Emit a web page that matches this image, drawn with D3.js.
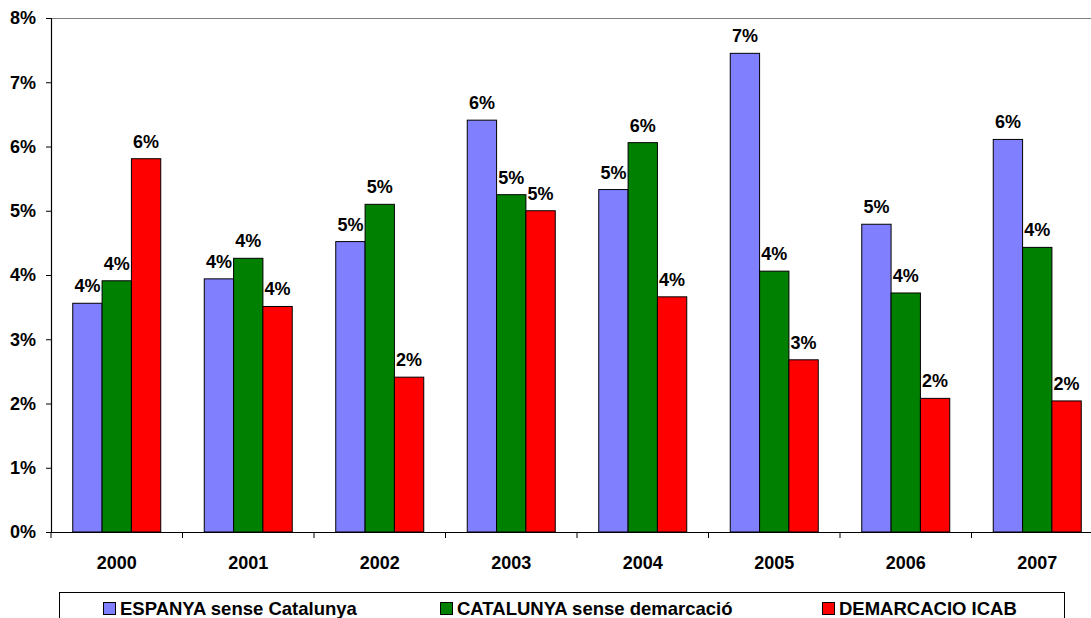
<!DOCTYPE html>
<html><head><meta charset="utf-8">
<script src="https://cdn.jsdelivr.net/npm/d3@7"></script>
<style>body{margin:0;background:#fff}svg{display:block;font-family:"Liberation Sans",Arial,sans-serif;font-weight:bold}</style>
</head><body><svg id="c" width="1091" height="618"></svg>
<script>
const years = ["2000","2001","2002","2003","2004","2005","2006","2007"];
const seriesNames = ["ESPANYA sense Catalunya","CATALUNYA sense demarcació","DEMARCACIO ICAB"];
const espanya   = [3.56, 3.94, 4.52, 6.41, 5.33, 7.45, 4.79, 6.11];
const catalunya = [3.91, 4.26, 5.10, 5.25, 6.06, 4.06, 3.72, 4.43];
const icab      = [5.81, 3.51, 2.41, 5.00, 3.66, 2.68, 2.08, 2.04];
const colors = ["#8080FF","#008000","#FF0000"];
const yTicks = [0,1,2,3,4,5,6,7,8];

(function(){
const svg = d3.select("#c");
const pLeft = 51, pTop = 18, pBottom = 532, step = 131.5;
const x0 = d3.scaleBand().domain(years).range([pLeft, pLeft + step*years.length]).padding(0);
const x1 = d3.scaleBand().domain(seriesNames).range([21.75, step-21.75]).padding(0);
const y = d3.scaleLinear().domain([0,8]).range([pBottom, pTop]);
const fmt = v => Math.round(v) + "%";

svg.append("line").attr("x1",pLeft).attr("x2",1091).attr("y1",pTop+0.5).attr("y2",pTop+0.5)
  .attr("stroke","#808080").attr("stroke-width",1.2);

const data = [espanya, catalunya, icab];
const g = svg.append("g");
years.forEach((yr,i)=>{
  seriesNames.forEach((s,j)=>{
    const v = data[j][i];
    const bx = x0(yr) + x1(s);
    g.append("rect").attr("x",bx).attr("y",y(v)).attr("width",x1.bandwidth()).attr("height",pBottom-y(v))
      .attr("fill",colors[j]).attr("stroke","#000").attr("stroke-width",1);
    g.append("text").attr("x",bx + x1.bandwidth()/2).attr("y",y(v)-11).attr("text-anchor","middle")
      .attr("font-size",18).text(fmt(v));
  });
});

const ya = svg.append("g").attr("transform",`translate(${pLeft},0)`)
  .call(d3.axisLeft(y).tickValues(yTicks).tickSize(5).tickPadding(10).tickFormat(d=>d+"%"));
ya.select(".domain").attr("stroke","#000").attr("stroke-width",1.2);
ya.selectAll("text").attr("font-size",18).attr("font-family","Liberation Sans, Arial, sans-serif").attr("font-weight","bold").attr("fill","#000");

const xa = svg.append("g").attr("transform",`translate(0,${pBottom})`)
  .call(d3.axisBottom(x0).tickSize(0).tickPadding(24));
xa.select(".domain").attr("stroke","#000").attr("stroke-width",1.2);
xa.selectAll("text").attr("font-size",18).attr("font-family","Liberation Sans, Arial, sans-serif").attr("font-weight","bold").attr("fill","#000");
years.forEach((yr)=>{
  const tx = x0(yr);
  svg.append("line").attr("x1",tx).attr("x2",tx).attr("y1",pBottom).attr("y2",pBottom+6).attr("stroke","#000");
});

svg.append("rect").attr("x",59.5).attr("y",592.5).attr("width",1005).attr("height",40)
  .attr("fill","#fff").attr("stroke","#000").attr("stroke-width",1);
const legX = [103, 440, 822];
seriesNames.forEach((s,j)=>{
  svg.append("rect").attr("x",legX[j]+0.5).attr("y",602.5).attr("width",12).attr("height",12)
    .attr("fill",colors[j]).attr("stroke","#000");
  svg.append("text").attr("x",legX[j]+17).attr("y",615).attr("font-size",18.5).text(s);
});
})();
</script></body></html>
